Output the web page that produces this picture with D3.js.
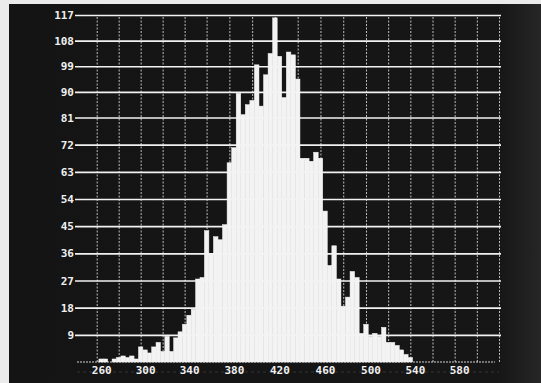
<!DOCTYPE html>
<html>
<head>
<meta charset="utf-8">
<script src="https://cdn.jsdelivr.net/npm/d3@7"></script>
<style>
  html, body { margin: 0; padding: 0; background: #fff; }
  svg { display: block; }
  .tick text { font-family: "DejaVu Sans Mono", "Liberation Mono", monospace; font-weight: bold; font-size: 11px; fill: #f0f0f0; }
</style>
</head>
<body>
<svg id="chart" width="541" height="383"></svg>
<script>
// Histogram channels: centre of each 4-unit bin
const binCenters = [
  256, 260, 264, 268, 272, 276, 280, 284, 288, 292, 296,
  300, 304, 308, 312, 316, 320, 324, 328, 332, 336,
  340, 344, 348, 352, 356, 360, 364, 368, 372, 376,
  380, 384, 388, 392, 396, 400, 404, 408, 412, 416,
  420, 424, 428, 432, 436, 440, 444, 448, 452, 456,
  460, 464, 468, 472, 476, 480, 484, 488, 492, 496,
  500, 504, 508, 512, 516, 520, 524, 528, 532, 536, 540, 544
];
// Counts per bin
const counts = [
  0, 0, 1, 1, 0, 1, 1.5, 2, 1.5, 2, 1,
  5, 4, 3, 5, 6.5, 3.5, 8.5, 3.5, 8, 10,
  12.5, 15.5, 17.5, 27.5, 28, 43.5, 36, 41.5, 40.5, 45.5,
  66, 71, 89.5, 82, 85.5, 87, 99.5, 85, 96, 103.5,
  116, 102.5, 88, 104, 103, 94.5, 67.5, 67.5, 66.5, 69.5,
  67.5, 50, 32, 38.5, 27.5, 18.5, 21.5, 30, 28, 9.5,
  12.5, 8.5, 9.5, 8.5, 11.5, 6.5, 6.5, 5.5, 4, 2.5, 1.5, 0
];
const binWidth = 4;

// Axis tick values
const yTicks = [9, 18, 27, 36, 45, 54, 63, 72, 81, 90, 99, 108, 117];
const xTicks = [260, 300, 340, 380, 420, 460, 500, 540, 580];
const xGrid = d3.range(260, 621, 20);

const svg = d3.select("#chart");

// Display screen: dark face with a paper margin on the left/top
const defs = svg.append("defs");
const grad = defs.append("linearGradient").attr("id", "screen").attr("x1", "0").attr("x2", "1");
grad.append("stop").attr("offset", "0").attr("stop-color", "#141414");
grad.append("stop").attr("offset", "0.92").attr("stop-color", "#161616");
grad.append("stop").attr("offset", "1").attr("stop-color", "#262626");

svg.append("rect").attr("width", 541).attr("height", 383).attr("fill", "#ebebeb");
svg.append("rect").attr("x", 9).attr("y", 4).attr("width", 532).attr("height", 379).attr("fill", "url(#screen)");

// Scales (screen is slightly non-linear, so use a few anchor points)
const x = d3.scaleLinear().domain([260, 360, 500, 620]).range([96.7, 206.6, 366, 499]);
const y = d3.scaleLinear().domain([0, 81, 117]).range([362, 117.5, 15]);

const left = 77, right = 499;

// Vertical grid (every 20 units)
const vgrid = svg.append("g")
  .attr("transform", `translate(0,${y(0)})`)
  .call(d3.axisBottom(x).tickValues(xGrid).tickSize(-(y(0) - y(117))).tickFormat(""));
vgrid.select(".domain").remove();
vgrid.selectAll(".tick line").attr("stroke", "#bdbdbd").attr("stroke-width", 1).attr("stroke-dasharray", "2,1.5");

// Horizontal grid + y labels
const yAxis = svg.append("g")
  .attr("transform", `translate(${left},0)`)
  .call(d3.axisLeft(y).tickValues(yTicks).tickSize(-(right - left + 2)).tickPadding(3));
yAxis.select(".domain").remove();
yAxis.selectAll(".tick line").attr("stroke", "#f2f2f2").attr("stroke-width", 1.6).attr("x1", -2);

// Baseline
svg.append("line")
  .attr("x1", left).attr("x2", right - 4)
  .attr("y1", y(0)).attr("y2", y(0))
  .attr("stroke", "#d0d0d0").attr("stroke-width", 1.2).attr("stroke-dasharray", "2,1");

// Faint scan line through the label row
svg.append("line")
  .attr("x1", left).attr("x2", right)
  .attr("y1", 372).attr("y2", 372)
  .attr("stroke", "#343434").attr("stroke-width", 1).attr("stroke-dasharray", "3,3");

// X labels
const xAxis = svg.append("g")
  .attr("transform", "translate(0,366)")
  .call(d3.axisBottom(x).tickValues(xTicks).tickSize(0).tickPadding(0).tickFormat(d3.format("d")));
xAxis.select(".domain").remove();
xAxis.selectAll(".tick text").attr("dx", 4.5).attr("dy", "0.71em");

// Bars (adjacent channels touch, as on the display; thin stroke hides seams)
svg.append("g")
  .selectAll("rect")
  .data(binCenters.map((c, i) => ({ c, v: counts[i] })).filter(d => d.v > 0))
  .join("rect")
  .attr("x", d => x(d.c - binWidth / 2))
  .attr("width", d => x(d.c + binWidth / 2) - x(d.c - binWidth / 2))
  .attr("y", d => y(d.v))
  .attr("height", d => y(0) - y(d.v))
  .attr("fill", "#f3f3f3")
  .attr("stroke", "#f3f3f3")
  .attr("stroke-width", 0.5);
</script>
</body>
</html>
